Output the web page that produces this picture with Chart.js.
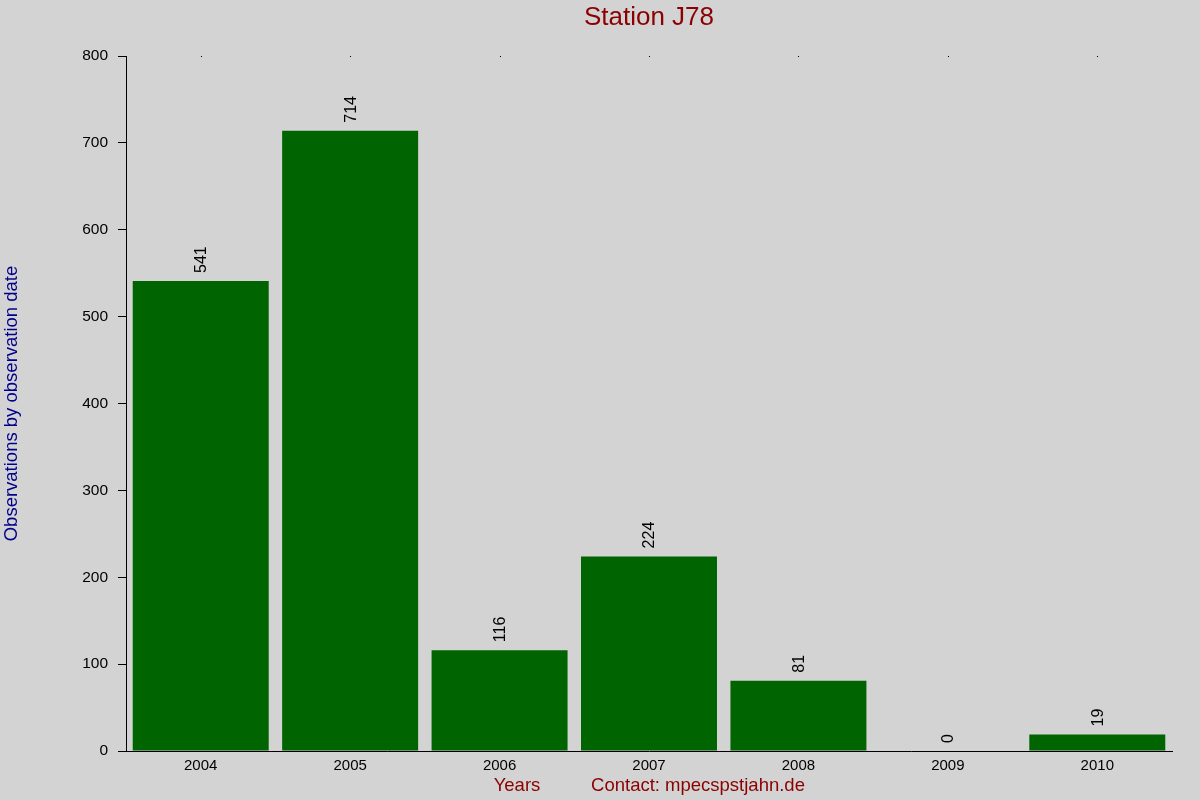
<!DOCTYPE html>
<html>
<head>
<meta charset="utf-8">
<title>Station J78</title>
<script src="https://cdn.jsdelivr.net/npm/chart.js@4.4.1/dist/chart.umd.min.js"></script>
<style>
    html, body { margin: 0; padding: 0; background: #d3d3d3; }
    #wrap { width: 1200px; height: 800px; }
</style>
</head>
<body>
<div id="wrap"><canvas id="chart" width="1200" height="800"></canvas></div>
<script>
const years = ['2004', '2005', '2006', '2007', '2008', '2009', '2010'];
const observations = [541, 714, 116, 224, 81, 0, 19];
const yTicks = [0, 100, 200, 300, 400, 500, 600, 700, 800];

const FONT = "'Liberation Sans', Arial, sans-serif";

// labels, title and bottom line drawn straight on the canvas
const decorations = {
    id: 'decorations',
    afterDatasetsDraw(chart) {
        const { ctx, chartArea, scales } = chart;
        const meta = chart.getDatasetMeta(0);
        ctx.save();
        ctx.fillStyle = '#000';
        ctx.font = `16px ${FONT}`;
        meta.data.forEach((bar, i) => {
            ctx.save();
            ctx.translate(bar.x + 1, bar.y - 8);
            ctx.rotate(-Math.PI / 2);
            ctx.textAlign = 'left';
            ctx.textBaseline = 'middle';
            ctx.fillText(String(observations[i]), 0, 0);
            ctx.restore();
        });
        // little dots on top edge at every category
        years.forEach((y, i) => {
            const x = scales.x.getPixelForValue(i);
            ctx.fillRect(Math.round(x), chartArea.top, 1, 1);
        });

        ctx.textAlign = 'center';
        ctx.textBaseline = 'middle';
        ctx.fillStyle = '#8b0000';
        ctx.font = `26px ${FONT}`;
        ctx.fillText('Station J78', (chartArea.left + chartArea.right) / 2, 18);

        ctx.font = `18.5px ${FONT}`;
        ctx.fillText('Years', 517, 786);
        ctx.fillText('Contact: mpecspstjahn.de', 698, 786);

        ctx.save();
        ctx.translate(12, (chartArea.top + chartArea.bottom) / 2);
        ctx.rotate(-Math.PI / 2);
        ctx.fillStyle = '#00008b';
        ctx.fillText('Observations by observation date', 0, 0);
        ctx.restore();
        ctx.restore();
    }
};

new Chart(document.getElementById('chart'), {
    type: 'bar',
    data: {
        labels: years,
        datasets: [{
            data: observations,
            backgroundColor: '#006400',
            borderWidth: 0,
            categoryPercentage: 1.0,
            barPercentage: 0.91,
        }]
    },
    options: {
        responsive: false,
        animation: false,
        devicePixelRatio: 1,
        layout: { padding: { top: 56, right: 28, left: 0, bottom: 0 } },
        plugins: {
            legend: { display: false },
            tooltip: { enabled: false },
            title: { display: false }
        },
        scales: {
            x: {
                afterFit: s => { s.height = 49; },
                grid: { display: false, drawTicks: false },
                border: { display: true, color: '#000', width: 1 },
                ticks: { color: '#000', font: { family: FONT, size: 15 }, padding: 6, maxRotation: 0 }
            },
            y: {
                min: 0,
                max: 800,
                afterFit: s => { s.width = 126; },
                afterBuildTicks: s => { s.ticks = yTicks.map(v => ({ value: v })); },
                grid: { drawOnChartArea: false, drawTicks: true, tickLength: 8, color: '#000' },
                border: { display: true, color: '#000', width: 1 },
                ticks: { color: '#000', font: { family: FONT, size: 15.5 }, padding: 10 }
            }
        }
    },
    plugins: [decorations]
});
</script>
</body>
</html>
